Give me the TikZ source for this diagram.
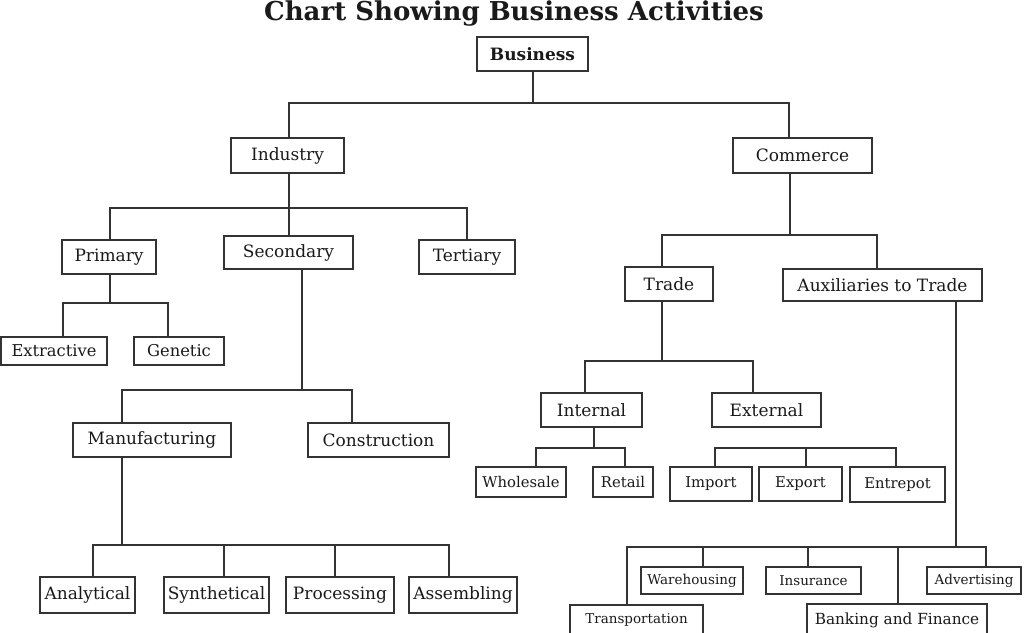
\documentclass[tikz,border=0pt]{standalone}
\usepackage{fontspec}
\setmainfont{DejaVu Serif}
\newcommand\szT{\fontsize{26}{30}\selectfont\bfseries}
\newcommand\szL{\fontsize{17}{20}\selectfont}
\newcommand\szX{\fontsize{16.3}{19}\selectfont}
\newcommand\szM{\fontsize{14.8}{17}\selectfont}
\newcommand\szB{\fontsize{15.3}{18}\selectfont}
\newcommand\szS{\fontsize{13.5}{16}\selectfont}
\definecolor{lc}{HTML}{333333}
\definecolor{tc}{HTML}{1a1a1a}
\tikzset{
  box/.style={draw=lc, line width=1.4pt, inner sep=0pt, align=center, text=tc, font=\szL},
  conn/.style={draw=lc, line width=1.4pt},
}
\begin{document}
\begin{tikzpicture}[x=1pt, y=-1pt]
\useasboundingbox (0,0) rectangle (1028,632);
\clip (0,0) rectangle (1028,632);
\fill[white] (0,0) rectangle (1028,632);
% title
\node[text=tc, font=\szT, inner sep=0pt, anchor=base] (title) at (514,20) {Chart Showing Business Activities};
% nodes
\node[box, font=\szL\bfseries, minimum width=111, minimum height=34] (business) at (532.5,54) {Business};
\node[box, minimum width=113, minimum height=35] (industry) at (287.5,155.5) {Industry};
\node[box, minimum width=139, minimum height=35] (commerce) at (802.5,155.5) {Commerce};
\node[box, minimum width=94, minimum height=34] (primary) at (109,257) {Primary};
\node[box, minimum width=129, minimum height=33] (secondary) at (288.5,252.5) {Secondary};
\node[box, minimum width=96, minimum height=34] (tertiary) at (467,257) {Tertiary};
\node[box, font=\szX, minimum width=106, minimum height=28] (extractive) at (54,351) {Extractive};
\node[box, font=\szX, minimum width=90, minimum height=28] (genetic) at (179,351) {Genetic};
\node[box, minimum width=158, minimum height=34] (manufacturing) at (152,440) {Manufacturing};
\node[box, minimum width=141, minimum height=34] (construction) at (378.5,440) {Construction};
\node[box, minimum width=95, minimum height=36] (analytical) at (87.5,595) {Analytical};
\node[box, minimum width=105, minimum height=36] (synthetical) at (216.5,595) {Synthetical};
\node[box, minimum width=108, minimum height=36] (processing) at (340,595) {Processing};
\node[box, minimum width=108, minimum height=36] (assembling) at (463,595) {Assembling};
\node[box, minimum width=88, minimum height=34] (trade) at (669,284) {Trade};
\node[box, minimum width=199, minimum height=32] (aux) at (882.5,285) {Auxiliaries to Trade};
\node[box, minimum width=101, minimum height=34] (internal) at (591.5,410) {Internal};
\node[box, minimum width=109, minimum height=34] (external) at (766.5,410) {External};
\node[box, font=\szM, minimum width=90, minimum height=30] (wholesale) at (521,482) {Wholesale};
\node[box, font=\szM, minimum width=60, minimum height=30] (retail) at (623,482) {Retail};
\node[box, font=\szM, minimum width=82, minimum height=34] (import) at (711,484) {Import};
\node[box, font=\szM, minimum width=83, minimum height=34] (export) at (800.5,484) {Export};
\node[box, font=\szM, minimum width=95, minimum height=35] (entrepot) at (897.5,484.5) {Entrepot};
\node[box, font=\szS, minimum width=102, minimum height=27] (warehousing) at (692,580.5) {Warehousing};
\node[box, font=\szS, minimum width=95, minimum height=27] (insurance) at (813.5,580.5) {Insurance};
\node[box, font=\szS, minimum width=94, minimum height=27] (advertising) at (974,580.5) {Advertising};
\node[box, font=\szS, minimum width=133, minimum height=30] (transportation) at (636.5,620) {Transportation};
\node[box, font=\szB, minimum width=180, minimum height=32] (banking) at (897,620) {Banking and Finance};
% connector junctions
\coordinate (bar0) at (533,103);
\coordinate (bar1) at (289,208);
\coordinate (bar2) at (110,303);
\coordinate (bar3) at (302,390);
\coordinate (bar4) at (122,545);
\coordinate (bar5) at (790,235);
\coordinate (bar6) at (662,361);
\coordinate (bar7) at (594,448);
\coordinate (bar8) at (806,448);
\coordinate (bar9) at (956,547);
% Business
\draw[conn] (business.south -| bar0) -- (bar0);
\draw[conn] (industry.north -| 289,0) |- (bar0) -| (commerce.north -| 789,0);
% Industry
\draw[conn] (industry.south -| bar1) -- (bar1);
\draw[conn] (primary.north -| 110,0) |- (bar1) -| (tertiary.north -| 467,0);
\draw[conn] (bar1) -- (secondary.north -| bar1);
% Primary
\draw[conn] (primary.south -| bar2) -- (bar2);
\draw[conn] (extractive.north -| 63,0) |- (bar2) -| (genetic.north -| 168,0);
% Secondary
\draw[conn] (secondary.south -| bar3) -- (bar3);
\draw[conn] (manufacturing.north -| 122,0) |- (bar3) -| (construction.north -| 352,0);
% Manufacturing
\draw[conn] (manufacturing.south -| bar4) -- (bar4);
\draw[conn] (analytical.north -| 93,0) |- (bar4) -| (assembling.north -| 449,0);
\draw[conn] (synthetical.north -| 224,0) -- (bar4 -| 224,0);
\draw[conn] (processing.north -| 335,0) -- (bar4 -| 335,0);
% Commerce
\draw[conn] (commerce.south -| bar5) -- (bar5);
\draw[conn] (trade.north -| 662,0) |- (bar5) -| (aux.north -| 877,0);
% Trade
\draw[conn] (trade.south -| bar6) -- (bar6);
\draw[conn] (internal.north -| 585,0) |- (bar6) -| (external.north -| 753,0);
% Internal
\draw[conn] (internal.south -| bar7) -- (bar7);
\draw[conn] (wholesale.north -| 536,0) |- (bar7) -| (retail.north -| 625,0);
% External (children bar only)
\draw[conn] (import.north -| 715,0) |- (bar8) -| (entrepot.north -| 896,0);
\draw[conn] (export.north -| bar8) -- (bar8);
% Auxiliaries
\draw[conn] (aux.south -| bar9) -- (bar9);
\draw[conn] (transportation.north -| 627,0) |- (bar9) -| (advertising.north -| 986,0);
\draw[conn] (warehousing.north -| 703,0) -- (bar9 -| 703,0);
\draw[conn] (insurance.north -| 808,0) -- (bar9 -| 808,0);
\draw[conn] (banking.north -| 898,0) -- (bar9 -| 898,0);
\end{tikzpicture}
\end{document}
